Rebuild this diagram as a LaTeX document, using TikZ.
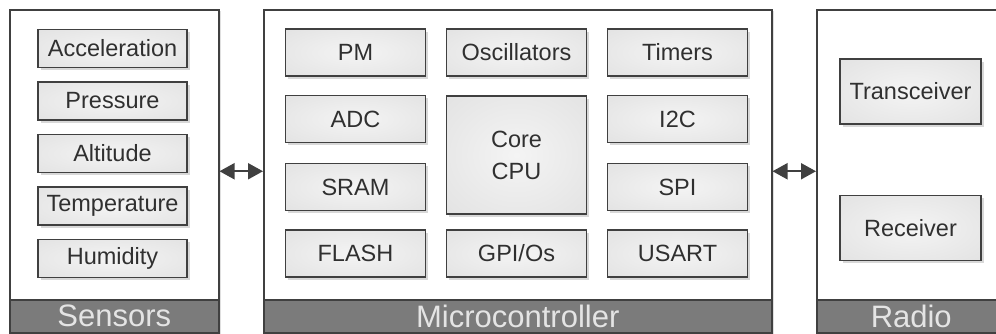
\documentclass[tikz,border=0pt]{standalone}
\usepackage{fontspec}
\setmainfont{Liberation Sans}
\usetikzlibrary{shadows,arrows.meta}
\definecolor{edgec}{HTML}{404040}
\definecolor{bandc}{HTML}{7B7B7B}
\definecolor{bandtext}{HTML}{E4E4E4}
\definecolor{textc}{HTML}{303030}
\definecolor{boxin}{HTML}{F4F4F4}
\definecolor{boxout}{HTML}{DCDCDC}
\definecolor{boxout2}{HTML}{D4D4D4}
\pgfdeclareradialshading{boxshade}{\pgfpoint{0bp}{0bp}}{color(0bp)=(boxin); color(50bp)=(boxout); color(75bp)=(boxout2)}
\begin{document}
\begin{tikzpicture}[x=1pt,y=-1pt,
  panel/.style={draw=edgec,line width=1.5pt,fill=white,anchor=north west,inner sep=0pt,
    drop shadow={shadow xshift=2pt,shadow yshift=-1pt,opacity=0.25,fill=gray}},
  band/.style={draw=edgec,line width=1.5pt,fill=bandc,text=bandtext,anchor=north west,inner sep=0pt,
    font=\fontsize{31}{31}\selectfont},
  blk/.style={draw=edgec,line width=1.2pt,shading=boxshade,text=textc,inner sep=0pt,align=center,
    minimum width=140pt,minimum height=47pt,font=\fontsize{23.5}{32}\selectfont,
    drop shadow={shadow xshift=2.5pt,shadow yshift=-2.5pt,opacity=0.3,fill=gray}},
  sblk/.style={blk,minimum width=149pt,minimum height=38pt},
  rblk/.style={blk,minimum width=141pt,minimum height=65pt},
  link/.style={draw=edgec,line width=2pt,{Triangle[length=15pt,width=16pt]}-{Triangle[length=15pt,width=16pt]}}
]
\clip (0,0) rectangle (996,333);
% panels
\node[panel,minimum width=209pt,minimum height=323pt] (sens) at (9,9) {};
\node[panel,minimum width=508pt,minimum height=323pt] (mc) at (263,9) {};
\node[panel,minimum width=200pt,minimum height=323pt] (radio) at (816,9) {};
% bands
\node[band,minimum width=209pt,minimum height=33pt] (sensband) at (9,299) {Sensors};
\node[band,minimum width=508pt,minimum height=33pt] (mcband) at (263,299) {Microcontroller};
\node[band,minimum width=200pt,minimum height=33pt,text width=180pt,align=left] (radioband) at (816,299) {\hspace*{44pt}Radio};
% sensors
\node[sblk] (acc) at (112.5,48.5) {Acceleration};
\node[sblk] (pres) at (112.5,101) {Pressure};
\node[sblk] (alt) at (112.5,153.5) {Altitude};
\node[sblk] (temp) at (112.5,206) {Temperature};
\node[sblk] (hum) at (112.5,258.5) {Humidity};
% microcontroller
\node[blk] (pm) at (355.5,52.5) {PM};
\node[blk] (osc) at (516.5,52.5) {Oscillators};
\node[blk] (tim) at (677.5,52.5) {Timers};
\node[blk] (adc) at (355.5,119) {ADC};
\node[blk] (i2c) at (677.5,119) {I2C};
\node[blk] (sram) at (355.5,187) {SRAM};
\node[blk] (spi) at (677.5,187) {SPI};
\node[blk] (flash) at (355.5,253.5) {FLASH};
\node[blk] (gpio) at (516.5,253.5) {GPI/Os};
\node[blk] (usart) at (677.5,253.5) {USART};
\node[blk,minimum height=118pt] (cpu) at (516.5,155) {Core\\CPU};
% radio
\node[rblk] (trx) at (910.5,91.5) {Transceiver};
\node[rblk] (rx) at (910.5,228) {Receiver};
% links
\draw[link] (sens.east) -- (mc.west);
\draw[link] (mc.east) -- (radio.west);
\end{tikzpicture}
\end{document}
